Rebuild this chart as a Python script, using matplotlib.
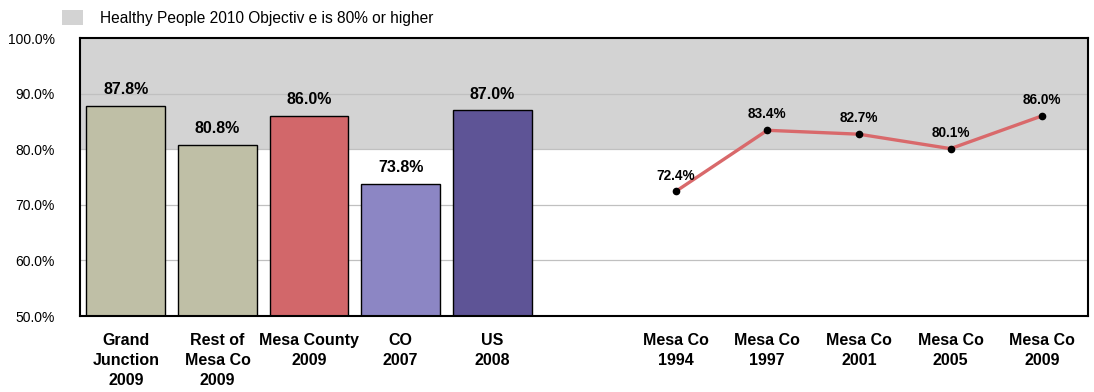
import matplotlib.pyplot as plt
from matplotlib.patches import Rectangle

plt.rcParams['font.family'] = ['Liberation Sans', 'DejaVu Sans']

# Comparison bars
bar_labels = ["Grand\nJunction\n2009", "Rest of\nMesa Co\n2009", "Mesa County\n2009", "CO\n2007", "US\n2008"]
bar_values = [87.8, 80.8, 86.0, 73.8, 87.0]
bar_colors = ["#BFBFA6", "#BFBFA6", "#D2676A", "#8C86C4", "#5E5496"]

# Mesa County trend
trend_labels = ["Mesa Co\n1994", "Mesa Co\n1997", "Mesa Co\n2001", "Mesa Co\n2005", "Mesa Co\n2009"]
trend_values = [72.4, 83.4, 82.7, 80.1, 86.0]

objective = 80.0
y_ticks = [50, 60, 70, 80, 90, 100]

fig = plt.figure(figsize=(10.94, 3.92), dpi=100)
ax = fig.add_axes([80 / 1094, 1 - 316 / 392, 1008 / 1094, 278 / 392])

ax.set_xlim(-0.5, 10.5)
ax.set_ylim(50, 100)

# Objective band
ax.axhspan(objective, 100, color="#D3D3D3", zorder=0, lw=0)
for t in y_ticks[1:-1]:
    ax.axhline(t, color="#C0C0C0", lw=0.9, zorder=0.5)

bar_x = list(range(len(bar_values)))
ax.bar(bar_x, bar_values, width=0.86, bottom=0, color=bar_colors,
       edgecolor="black", linewidth=1.0, zorder=2)
for x, v in zip(bar_x, bar_values):
    ax.text(x, v + 1.5, f"{v:.1f}%", ha="center", va="bottom",
            fontsize=11.5, fontweight="bold", zorder=3)

trend_x = [6 + i for i in range(len(trend_values))]
ax.plot(trend_x, trend_values, color="#D9696B", lw=2.4, zorder=3,
        marker="o", markersize=4.5, markerfacecolor="black", markeredgecolor="black")
for x, v in zip(trend_x, trend_values):
    ax.text(x, v + 1.6, f"{v:.1f}%", ha="center", va="bottom",
            fontsize=9.8, fontweight="bold", zorder=4)

ax.set_yticks(y_ticks)
ax.set_yticklabels([f"{t:.1f}%" for t in y_ticks], fontsize=10)
ax.tick_params(axis="y", length=0, pad=18)

ax.set_xticks(bar_x + trend_x)
ax.set_xticklabels(bar_labels + trend_labels, fontsize=11.5, fontweight="bold",
                   linespacing=1.45, va="top")
ax.tick_params(axis="x", length=0, pad=12)

for s in ax.spines.values():
    s.set_linewidth(1.5)
    s.set_color("black")

# Legend entry for the objective band
fig.patches.append(Rectangle((62 / 1094, 1 - 25 / 392), 21 / 1094, 15 / 392,
                             transform=fig.transFigure, facecolor="#D3D3D3",
                             edgecolor="none"))
fig.text(100 / 1094, 1 - 19 / 392, "Healthy People 2010 Objectiv e is 80% or higher",
         fontsize=11.2, va="center", ha="left")

fig.savefig("out.png", dpi=100)
